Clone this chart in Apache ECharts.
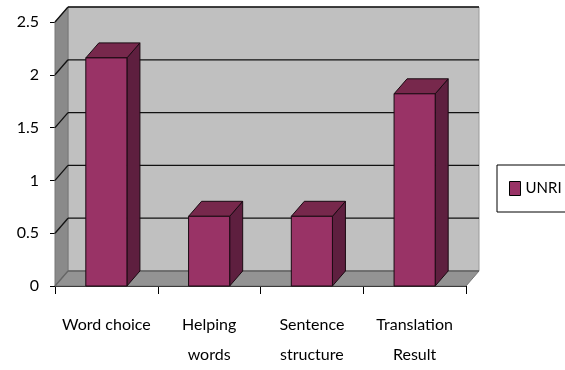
<!DOCTYPE html>
<html>
<head>
<meta charset="utf-8">
<script src="https://cdn.jsdelivr.net/npm/echarts@6/dist/echarts.min.js"></script>
<style>
html,body{margin:0;padding:0;background:#fff;}
#chart{width:565px;height:370px;}
</style>
</head>
<body>
<div id="chart"></div>
<script>
const categories = ['Word choice', 'Helping\nwords', 'Sentence\nstructure', 'Translation\nResult'];
const unriValues = [2.16, 0.66, 0.66, 1.82];
const yTicks = [0, 0.5, 1, 1.5, 2, 2.5];
const seriesName = 'UNRI';

const DX = 13, DY = -15;
const FONT = 'Lato, "Open Sans", sans-serif';

function renderWalls(params, api) {
  const cs = params.coordSys;
  const x0 = cs.x, x1 = cs.x + cs.width, yT = cs.y, y0 = cs.y + cs.height;
  return {
    type: 'group',
    children: [
      { type: 'polygon', shape: { points: [[x0 + DX, yT + DY], [x1 + DX, yT + DY], [x1 + DX, y0 + DY], [x0 + DX, y0 + DY]] },
        style: { fill: '#c0c0c0', stroke: '#9a9a9a', lineWidth: 1 } },
      { type: 'polygon', shape: { points: [[x0, yT], [x0 + DX, yT + DY], [x0 + DX, y0 + DY], [x0, y0]] },
        style: { fill: '#8a8a8a', stroke: '#777', lineWidth: 1 } },
      { type: 'polygon', shape: { points: [[x0, y0], [x0 + DX, y0 + DY], [x1 + DX, y0 + DY], [x1, y0]] },
        style: { fill: '#939393', stroke: '#777', lineWidth: 1 } }
    ]
  };
}

function renderGrid(params, api) {
  const cs = params.coordSys;
  const x0 = cs.x, x1 = cs.x + cs.width;
  const y = api.coord([0, api.value(1)])[1];
  const v = api.value(1);
  const col = v === 0 ? '#666' : '#111';
  return {
    type: 'group',
    children: [
      { type: 'line', shape: { x1: x0 + DX, y1: y + DY, x2: x1 + DX, y2: y + DY }, style: { stroke: col, lineWidth: 1.3 } },
      { type: 'line', shape: { x1: x0, y1: y, x2: x0 + DX, y2: y + DY }, style: { stroke: col, lineWidth: 1.3 } }
    ]
  };
}

function renderBar(params, api) {
  const idx = api.value(0), v = api.value(1);
  const top = api.coord([idx, v]);
  const base = api.coord([idx, 0]);
  const band = api.size([1, 0])[0];
  const w = band * 0.4;
  const L = top[0] - w / 2, R = top[0] + w / 2, T = top[1], B = base[1];
  const st = { stroke: '#1a0a12', lineWidth: 1, lineJoin: 'round' };
  return {
    type: 'group',
    children: [
      { type: 'polygon', shape: { points: [[R, T], [R + DX, T + DY], [R + DX, B + DY], [R, B]] }, style: Object.assign({ fill: '#5e1f3f' }, st) },
      { type: 'polygon', shape: { points: [[L, T], [R, T], [R + DX, T + DY], [L + DX, T + DY]] }, style: Object.assign({ fill: '#77284c' }, st) },
      { type: 'rect', shape: { x: L, y: T, width: w, height: B - T }, style: Object.assign({ fill: '#993366' }, st) }
    ]
  };
}

const chart = echarts.init(document.getElementById('chart'));
chart.setOption({
  backgroundColor: '#fff',
  animation: false,
  grid: { left: 55, right: 99, top: 22, bottom: 83 },
  legend: {
    data: [seriesName], left: 497, top: 165, orient: 'vertical',
    padding: [16, 22, 16, 12], borderColor: '#000', borderWidth: 1, backgroundColor: '#fff',
    icon: 'rect', itemWidth: 11, itemHeight: 14,
    itemStyle: { borderColor: '#000', borderWidth: 1 },
    textStyle: { fontSize: 15, color: '#000', fontFamily: FONT }
  },
  xAxis: {
    type: 'category', data: categories, boundaryGap: true,
    axisLine: { show: true, lineStyle: { color: '#000', width: 1 } },
    axisTick: { show: true, length: 8, alignWithLabel: false, lineStyle: { color: '#000' } },
    axisLabel: { interval: 0, fontSize: 16, lineHeight: 30, margin: 24, color: '#000', fontFamily: FONT },
    splitLine: { show: false }
  },
  yAxis: {
    type: 'value', min: 0, max: 2.5, interval: 0.5,
    axisLine: { show: true, lineStyle: { color: '#000', width: 1 } },
    axisTick: { show: true, length: 5, lineStyle: { color: '#000' } },
    axisLabel: { fontSize: 16, margin: 16, color: '#000', fontFamily: FONT },
    splitLine: { show: false }
  },
  series: [
    { type: 'custom', name: 'walls', z: 1, clip: false, silent: true, renderItem: renderWalls, data: [[0, 0]], encode: { x: 0, y: 1 } },
    { type: 'custom', name: 'grid', z: 2, clip: false, silent: true, renderItem: renderGrid, data: yTicks.map(v => [0, v]), encode: { x: 0, y: 1 } },
    { type: 'custom', name: seriesName, z: 3, clip: false, renderItem: renderBar,
      itemStyle: { color: '#993366' },
      data: categories.map((c, i) => [i, unriValues[i]]), encode: { x: 0, y: 1 } }
  ]
});
</script>
</body>
</html>
